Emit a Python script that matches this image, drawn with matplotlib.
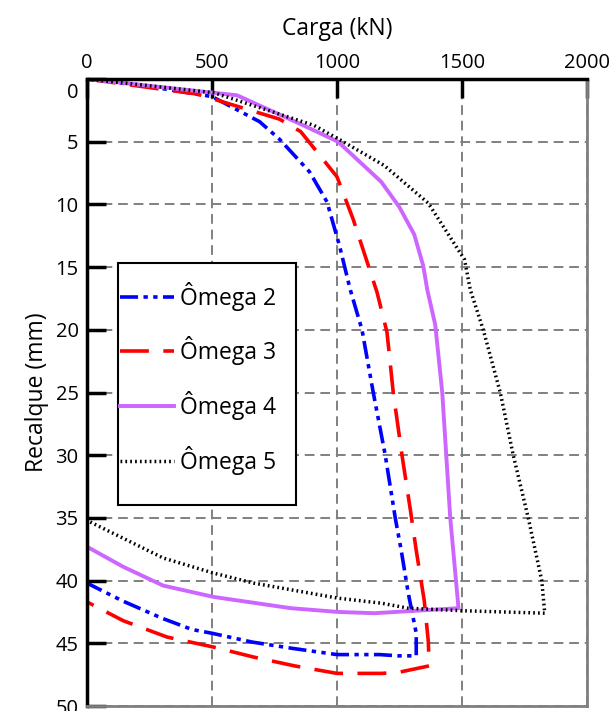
import numpy as np
import matplotlib
matplotlib.use('Agg')
import matplotlib.pyplot as plt
import matplotlib.transforms as mtransforms
from matplotlib.patches import Rectangle

plt.rcParams['font.family'] = ['Open Sans', 'DejaVu Sans']

# Carga (kN) x Recalque (mm) for each pile
omega2_carga = [0, 250, 500, 690, 770, 890, 960, 1010, 1053, 1100, 1145, 1193, 1233, 1257, 1285, 1317, 1317,
                1245, 1170, 1000, 820, 660, 500, 420, 300, 140, 0]
omega2_recalque = [0, 0.6, 1.4, 3.4, 4.8, 7.4, 9.8, 13.3, 16.8, 20, 25, 30, 35, 37.6, 41, 44.2, 46,
                   46, 45.9, 45.9, 45.4, 44.9, 44.2, 43.9, 43, 41.6, 40.2]

omega3_carga = [0, 440, 770, 855, 1000, 1065, 1160, 1200, 1225, 1260, 1293, 1317, 1349, 1365, 1369,
                1250, 1180, 1000, 830, 667, 506, 320, 145, 0]
omega3_recalque = [0, 1.2, 3.2, 4.2, 7.8, 11.2, 17, 20.2, 25, 30, 34.3, 37.6, 41.6, 44.8, 46.8,
                   47.3, 47.4, 47.4, 46.8, 46.1, 45.3, 44.5, 43.2, 41.7]

omega4_carga = [0, 600, 855, 1004, 1096, 1177, 1249, 1309, 1345, 1361, 1393, 1421, 1437, 1453, 1486,
                1150, 1004, 815, 506, 305, 145, 0]
omega4_recalque = [0, 1.3, 3.6, 5, 6.7, 8.2, 10.2, 12.4, 14.9, 16.8, 19.6, 25, 30, 35, 42.2,
                   42.6, 42.5, 42.2, 41.3, 40.4, 38.9, 37.3]

omega5_carga = [0, 508, 908, 1016, 1189, 1365, 1510, 1533, 1585, 1653, 1705, 1765, 1819, 1831,
                1498, 1285, 1177, 1004, 667, 506, 305, 0]
omega5_recalque = [0, 1.1, 3.7, 4.9, 6.9, 9.9, 14.4, 16.8, 20, 25, 30, 35, 40, 42.6,
                   42.4, 42.2, 41.8, 41.4, 40.2, 39.4, 38.2, 35.2]

fig = plt.figure(figsize=(6.1, 7.11), dpi=100)
ax = fig.add_axes([87/610, 1 - 706/711, 500/610, 627/711])

ax.plot(omega2_carga, omega2_recalque, color='#0000ff', lw=2.6,
        dashes=(5, 1.5, 1.2, 1.5, 1.2, 1.5), label='Ômega 2')
ax.plot(omega3_carga, omega3_recalque, color='#ff0000', lw=2.6,
        dashes=(8, 4), label='Ômega 3')
ax.plot(omega4_carga, omega4_recalque, color='#cc66ff', lw=2.8, label='Ômega 4')
ax.plot(omega5_carga, omega5_recalque, color='black', lw=2.5,
        dashes=(0.5, 0.9), label='Ômega 5')

ax.set_xlim(0, 2000)
ax.set_ylim(50, 0)
ax.set_xticks([0, 500, 1000, 1500, 2000])
ax.set_yticks(np.arange(0, 51, 5))
ax.xaxis.tick_top()
ax.xaxis.set_label_position('top')
ax.set_xlabel('Carga (kN)', fontsize=16.5, labelpad=13)
ax.set_ylabel('Recalque (mm)', fontsize=16.5, labelpad=5)
ax.tick_params(axis='both', direction='in', length=14, width=2.5, labelsize=14.5, pad=6)
ax.tick_params(axis='x', pad=4)

# shift the "0" label of the y axis down a bit as in the original
lbl0 = ax.get_yticklabels()[0]
lbl0.set_transform(lbl0.get_transform() + mtransforms.ScaledTranslation(0, -12/100, fig.dpi_scale_trans))

ax.grid(True, color='#808080', linestyle=(0, (5, 3)), lw=1.4)
for s in ['left', 'top']:
    ax.spines[s].set_color('black')
    ax.spines[s].set_linewidth(2.5)
for s in ['right', 'bottom']:
    ax.spines[s].set_color('#808080')
    ax.spines[s].set_linewidth(2)

# legend box drawn separately so the entries can sit close to its left edge
box = Rectangle((0.062, 0.3206), 0.356, 0.386, transform=ax.transAxes,
                facecolor='white', edgecolor='black', lw=1.5, zorder=4)
ax.add_patch(box)
leg = ax.legend(loc='upper left', bbox_to_anchor=(0.066, 0.677), fontsize=16.5,
                frameon=False, handlelength=2.35, handletextpad=0.25,
                labelspacing=1.12, borderpad=0, borderaxespad=0)
leg.set_zorder(5)

fig.savefig('out.png', dpi=100)
